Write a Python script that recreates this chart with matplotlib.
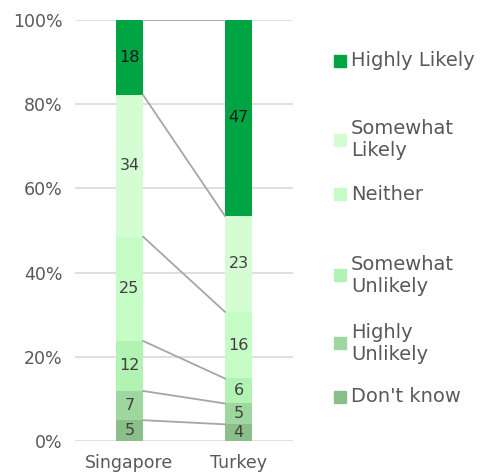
import numpy as np
import matplotlib.pyplot as plt
from matplotlib.patches import Rectangle

# ── Data ──────────────────────────────────────────────────────────────────────
countries = ["Singapore", "Turkey"]
series = ["Don't know", "Highly Unlikely", "Somewhat Unlikely",
          "Neither", "Somewhat Likely", "Highly Likely"]
dont_know = [5, 4]
highly_unlikely = [7, 5]
somewhat_unlikely = [12, 6]
neither = [25, 16]
somewhat_likely = [34, 23]
highly_likely = [18, 47]

legend_labels = ["Don't know", "Highly\nUnlikely", "Somewhat\nUnlikely",
                 "Neither", "Somewhat\nLikely", "Highly Likely"]
colours = ["#8abf8a", "#9fd89f", "#b2f2b2", "#c6fdc6", "#d4fdd4", "#00a443"]

values = np.array([dont_know, highly_unlikely, somewhat_unlikely,
                   neither, somewhat_likely, highly_likely], dtype=float)
pct = values / values.sum(axis=0) * 100

plt.rcParams["font.family"] = ["DejaVu Sans"]

fig = plt.figure(figsize=(4.89, 4.74), dpi=100)
ax = fig.add_axes([75 / 489, 1 - 441 / 474, 218 / 489, 421 / 474])

x = np.arange(len(countries))
width = 0.25
bottom = np.zeros(len(countries))
tops = []
for i, name in enumerate(series):
    ax.bar(x, pct[i], width, bottom=bottom, color=colours[i], zorder=2)
    txt_col = "#1a1a1a" if i == len(series) - 1 else "#404040"
    for j in range(len(countries)):
        ax.text(x[j], bottom[j] + pct[i][j] / 2, f"{int(values[i][j])}",
                ha="center", va="center", fontsize=11.5, color=txt_col, zorder=4)
    bottom = bottom + pct[i]
    tops.append(bottom.copy())

# connector lines between bars
for t in tops:
    ax.plot([x[0] + width / 2, x[1] - width / 2], [t[0], t[1]],
            color="#a6a6a6", linewidth=1.3, zorder=3)

ax.set_xlim(-0.5, 1.5)
ax.set_ylim(0, 100)
ax.set_yticks(range(0, 101, 20))
ax.set_yticklabels([f"{v}%" for v in range(0, 101, 20)])
ax.set_xticks(x)
ax.set_xticklabels(countries)
ax.tick_params(axis="both", length=0, labelsize=12.5, colors="#595959")
ax.tick_params(axis="y", pad=9)
ax.tick_params(axis="x", pad=9)
ax.grid(axis="y", color="#d9d9d9", linewidth=1.2, zorder=0)
ax.set_axisbelow(True)
for s in ax.spines.values():
    s.set_visible(False)

# legend, placed by hand like the original
legend_y = [397, 343, 275, 194, 140, 61]
for lab, col, yy in zip(legend_labels, colours, legend_y):
    fy = 1 - yy / 474
    fig.patches.append(Rectangle((334 / 489, fy - 6 / 474), 12 / 489, 12 / 474,
                                 transform=fig.transFigure, color=col))
    fig.text(351 / 489, fy, lab, ha="left", va="center", fontsize=14,
             color="#595959", linespacing=1.2)

fig.savefig("out.png", dpi=100)
